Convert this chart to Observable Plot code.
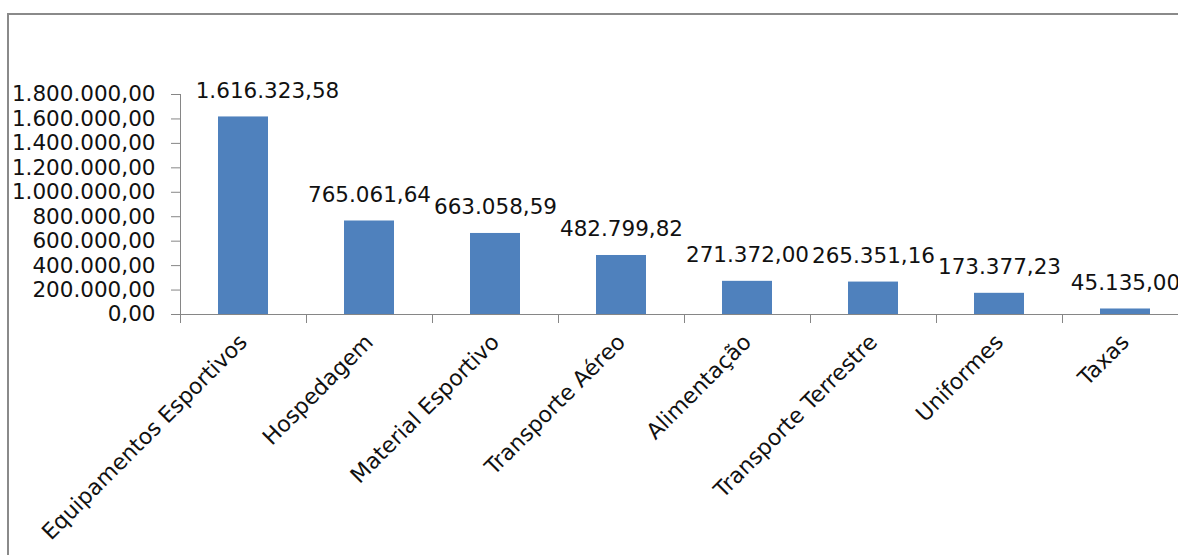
<!DOCTYPE html>
<html>
<head>
<meta charset="utf-8">
<script src="https://cdn.jsdelivr.net/npm/d3@7"></script>
<script src="https://cdn.jsdelivr.net/npm/@observablehq/plot@0.6"></script>
<style>
  html, body { margin: 0; padding: 0; background: #fff; overflow: hidden; }
  #wrap { position: relative; width: 1178px; height: 555px; overflow: hidden; }
  #chart { position: absolute; left: 0; top: 0; }
  #border { position: absolute; left: 7px; top: 13px; width: 1300px; height: 700px;
            border: 2px solid #8a8a8a; box-sizing: border-box; pointer-events: none; }
</style>
</head>
<body>
<div id="wrap"><div id="chart"></div><div id="border"></div></div>
<script>
const categories = ["Equipamentos Esportivos", "Hospedagem", "Material Esportivo", "Transporte Aéreo",
                    "Alimentação", "Transporte Terrestre", "Uniformes", "Taxas"];
const values = [1616323.58, 765061.64, 663058.59, 482799.82, 271372.00, 265351.16, 173377.23, 45135.00];
const yTicks = [0, 200000, 400000, 600000, 800000, 1000000, 1200000, 1400000, 1600000, 1800000];

const data = categories.map((c, i) => ({category: c, value: values[i]}));
const br = d3.formatLocale({decimal: ",", thousands: ".", grouping: [3], currency: ["R$ ", ""]});
const fmt = br.format(",.2f");

const W = 1178, H = 555;
const mL = 180, mR = -10, mT = 94, mB = 241;
const step = (W - mL - mR) / categories.length;
const font = "DejaVu Sans, sans-serif";
const axisColor = "#868686";
const textColor = "#111111";

const labelOpts = {x: "category", y: "value", text: d => fmt(d.value), lineAnchor: "bottom",
                   dy: -19, fill: textColor, fontSize: 21.5};

const chart = Plot.plot({
  width: W, height: H,
  marginLeft: mL, marginRight: mR, marginTop: mT, marginBottom: mB,
  style: {fontFamily: font, fontSize: "21px", color: textColor, background: "transparent", overflow: "visible"},
  x: {domain: categories, paddingInner: 0.6, paddingOuter: 0.3, label: null},
  y: {domain: [0, 1800000], label: null},
  marks: [
    Plot.barY(data, {x: "category", y: "value", fill: "#4F81BD"}),
    Plot.frame({anchor: "left", stroke: axisColor}),
    Plot.frame({anchor: "bottom", stroke: axisColor}),
    Plot.axisY({ticks: yTicks, tickSize: 9, tickPadding: 16, tickFormat: fmt, stroke: axisColor,
                fill: textColor, fontSize: 21.5, label: null}),
    Plot.axisX({tickSize: 9, dx: -step / 2, stroke: axisColor, fill: "none", tickFormat: () => "", label: null}),
    Plot.axisX({tickSize: 0, tickRotate: -45, tickPadding: 24, fill: textColor, fontSize: 22, label: null}),
    // the first label sits right of its bar, clear of the value axis, as in the original
    Plot.text(data.slice(0, 1), {...labelOpts, dx: 24}),
    Plot.text(data.slice(1), labelOpts)
  ]
});
document.getElementById("chart").appendChild(chart);
</script>
</body>
</html>
